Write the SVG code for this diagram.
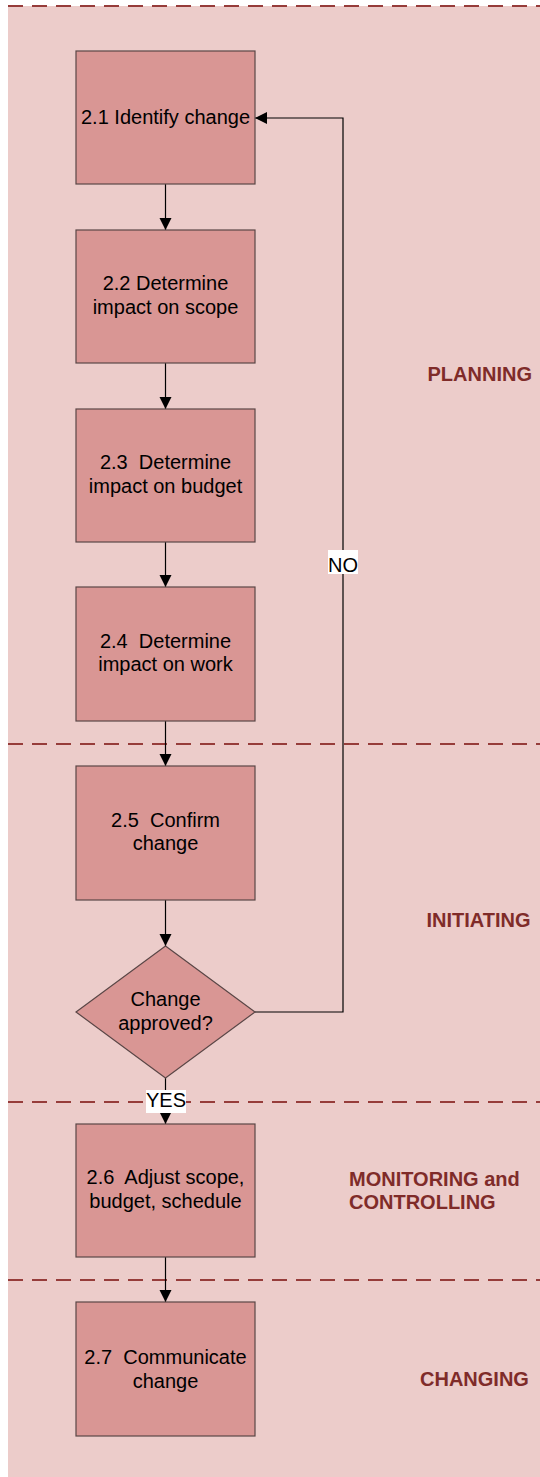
<svg xmlns="http://www.w3.org/2000/svg" width="540" height="1477" viewBox="0 0 540 1477">
<style>
.box{fill:#d99694;stroke:#5a4646;stroke-width:1.2}
.t{font-family:"Liberation Sans",Arial,sans-serif;font-size:20px;fill:#000;text-anchor:middle;white-space:pre}
.lane{font-family:"Liberation Sans",Arial,sans-serif;font-size:20px;font-weight:bold;fill:#7f2b29}
.dash{stroke:#963c3a;stroke-width:2;stroke-dasharray:15 9;fill:none}
.c{stroke:#000;stroke-width:1.2;fill:none}
.lbl{fill:#fff}
</style>
<defs>
<marker id="ah" markerUnits="userSpaceOnUse" markerWidth="13" markerHeight="13" refX="12" refY="6" orient="auto">
<path d="M0,0 L12,6 L0,12 z" fill="#000"/>
</marker>
</defs>
<rect x="8" y="6" width="532" height="1471" fill="#ecccca"/>
<g id="lanes">
<line class="dash" x1="8" y1="6" x2="540" y2="6"/>
<line class="dash" x1="8" y1="744" x2="540" y2="744"/>
<line class="dash" x1="8" y1="1102" x2="540" y2="1102"/>
<line class="dash" x1="8" y1="1280" x2="540" y2="1280"/>
<text class="lane" x="427.5" y="381">PLANNING</text>
<text class="lane" x="426.5" y="927">INITIATING</text>
<text class="lane" x="349" y="1186">MONITORING and</text>
<text class="lane" x="349" y="1209">CONTROLLING</text>
<text class="lane" x="420" y="1386">CHANGING</text>
</g>
<g id="connectors">
<line class="c" x1="165.5" y1="184" x2="165.5" y2="230" marker-end="url(#ah)"/>
<line class="c" x1="165.5" y1="363" x2="165.5" y2="409" marker-end="url(#ah)"/>
<line class="c" x1="165.5" y1="542" x2="165.5" y2="587" marker-end="url(#ah)"/>
<line class="c" x1="165.5" y1="721" x2="165.5" y2="766" marker-end="url(#ah)"/>
<line class="c" x1="165.5" y1="900" x2="165.5" y2="946" marker-end="url(#ah)"/>
<line class="c" x1="165.5" y1="1078" x2="165.5" y2="1124" marker-end="url(#ah)"/>
<line class="c" x1="165.5" y1="1257" x2="165.5" y2="1302" marker-end="url(#ah)"/>
<polyline class="c" stroke="#3a3a3a" points="255,1012 343,1012 343,118 255,118" marker-end="url(#ah)"/>
<rect class="lbl" x="328" y="550" width="30" height="24"/>
<text class="t" x="343" y="572">NO</text>
<rect class="lbl" x="146" y="1090" width="40" height="23"/>
<text class="t" x="166" y="1107">YES</text>
</g>
<g id="n21"><rect class="box" x="76" y="51" width="179" height="133"/><text class="t" x="165.5" y="123.5">2.1 Identify change</text></g>
<g id="n22"><rect class="box" x="76" y="230" width="179" height="133"/><text class="t" x="165.5" y="290">2.2 Determine</text><text class="t" x="165.5" y="313.5">impact on scope</text></g>
<g id="n23"><rect class="box" x="76" y="409" width="179" height="133"/><text class="t" x="165.5" y="469">2.3  Determine</text><text class="t" x="165.5" y="492.5">impact on budget</text></g>
<g id="n24"><rect class="box" x="76" y="587" width="179" height="134"/><text class="t" x="165.5" y="647.5">2.4  Determine</text><text class="t" x="165.5" y="671">impact on work</text></g>
<g id="n25"><rect class="box" x="76" y="766" width="179" height="134"/><text class="t" x="165.5" y="826.5">2.5  Confirm</text><text class="t" x="165.5" y="850">change</text></g>
<g id="d1"><polygon class="box" points="165.5,946 255,1012 165.5,1078 76,1012"/><text class="t" x="165.5" y="1006">Change</text><text class="t" x="165.5" y="1029.5">approved?</text></g>
<g id="n26"><rect class="box" x="76" y="1124" width="179" height="133"/><text class="t" x="165.5" y="1184">2.6  Adjust scope,</text><text class="t" x="165.5" y="1207.5">budget, schedule</text></g>
<g id="n27"><rect class="box" x="76" y="1302" width="179" height="134"/><text class="t" x="165.5" y="1364">2.7  Communicate</text><text class="t" x="165.5" y="1387.5">change</text></g>
</svg>
